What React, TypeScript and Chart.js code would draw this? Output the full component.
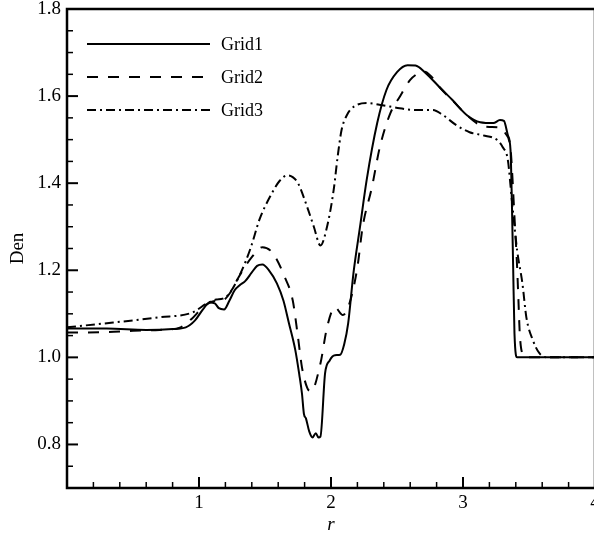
import React, { useEffect, useRef } from "react";
import { Chart, registerables } from "chart.js";

Chart.register(...registerables);

const FONT = '"Liberation Serif", "Times New Roman", Times, serif';

const seriesNames = ["Grid1", "Grid2", "Grid3"];

const grid1R = [0, 0.3, 0.6, 0.8, 0.9, 0.97, 1.03, 1.08, 1.12, 1.15, 1.19, 1.23, 1.27, 1.31, 1.35, 1.4, 1.44, 1.48, 1.53, 1.59, 1.64, 1.68, 1.73, 1.76, 1.78, 1.795, 1.81, 1.835, 1.86, 1.885, 1.905, 1.92, 1.955, 1.99, 2.03, 2.07, 2.1, 2.13, 2.17, 2.22, 2.27, 2.35, 2.42, 2.5, 2.58, 2.64, 2.71, 2.83, 2.92, 3.03, 3.13, 3.23, 3.28, 3.31, 3.34, 3.36, 3.37, 3.38, 3.39, 3.41, 3.43, 4.0];
const grid1Den = [1.066, 1.066, 1.063, 1.065, 1.069, 1.085, 1.11, 1.126, 1.124, 1.113, 1.11, 1.13, 1.154, 1.166, 1.175, 1.195, 1.21, 1.213, 1.2, 1.17, 1.13, 1.08, 1.016, 0.96, 0.917, 0.87, 0.86, 0.83, 0.816, 0.826, 0.816, 0.818, 0.963, 0.993, 1.005, 1.006, 1.03, 1.078, 1.193, 1.3, 1.407, 1.538, 1.614, 1.655, 1.671, 1.67, 1.655, 1.618, 1.591, 1.556, 1.54, 1.538, 1.545, 1.543, 1.51, 1.476, 1.361, 1.207, 1.055, 1.0, 1.0, 1.0];

const grid2R = [0, 0.3, 0.5, 0.7, 0.86, 0.95, 1.03, 1.11, 1.18, 1.24, 1.3, 1.4, 1.48, 1.56, 1.65, 1.71, 1.75, 1.78, 1.82, 1.85, 1.92, 1.97, 2.03, 2.09, 2.14, 2.2, 2.24, 2.31, 2.37, 2.45, 2.52, 2.6, 2.66, 2.71, 2.76, 2.83, 2.92, 3.03, 3.13, 3.2, 3.28, 3.32, 3.36, 3.37, 3.39, 3.41, 3.42, 3.43, 3.45, 3.49, 4.0];
const grid2Den = [1.057, 1.058, 1.061, 1.063, 1.069, 1.09, 1.115, 1.129, 1.131, 1.15, 1.184, 1.23, 1.253, 1.239, 1.184, 1.131, 1.046, 0.977, 0.93, 0.922, 0.986, 1.069, 1.115, 1.097, 1.124, 1.207, 1.3, 1.391, 1.483, 1.561, 1.598, 1.637, 1.652, 1.656, 1.645, 1.618, 1.59, 1.556, 1.533, 1.529, 1.528, 1.515, 1.48, 1.437, 1.322, 1.207, 1.131, 1.055, 1.009, 1.0, 1.0];

const grid3R = [0, 0.35, 0.7, 0.95, 1.06, 1.13, 1.18, 1.23, 1.31, 1.39, 1.46, 1.54, 1.61, 1.67, 1.71, 1.75, 1.82, 1.87, 1.92, 1.97, 2.02, 2.05, 2.08, 2.12, 2.17, 2.27, 2.39, 2.52, 2.65, 2.77, 2.85, 2.95, 3.05, 3.15, 3.26, 3.3, 3.34, 3.37, 3.41, 3.45, 3.48, 3.53, 3.58, 3.64, 4.0];
const grid3Den = [1.069, 1.08, 1.092, 1.103, 1.124, 1.133, 1.135, 1.147, 1.19, 1.25, 1.318, 1.37, 1.405, 1.418, 1.414, 1.4, 1.345, 1.3, 1.257, 1.3, 1.384, 1.46, 1.522, 1.556, 1.575, 1.584, 1.579, 1.572, 1.568, 1.568, 1.556, 1.533, 1.517, 1.51, 1.499, 1.483, 1.453, 1.361, 1.246, 1.17, 1.092, 1.039, 1.009, 1.0, 1.0];

const xTickValues = [1, 2, 3, 4];
const yTickValues = [0.8, 1.0, 1.2, 1.4, 1.6, 1.8];
const xMinorStep = 0.2;
const yMinorStep = 0.05;

const toPoints = (xs: number[], ys: number[]) => xs.map((x, i) => ({ x, y: ys[i] }));

const decorPlugin = {
  id: "decor",
  afterDatasetsDraw(chart: any) {
    const { ctx, chartArea, scales } = chart;
    const { left, right, top, bottom } = chartArea;
    const xs = scales.x;
    const ys = scales.y;
    ctx.save();
    ctx.strokeStyle = "#000";
    ctx.setLineDash([]);
    const seg = (x1: number, y1: number, x2: number, y2: number) => {
      ctx.beginPath();
      ctx.moveTo(x1, y1);
      ctx.lineTo(x2, y2);
      ctx.stroke();
    };
    // minor ticks
    ctx.lineWidth = 1.5;
    for (let v = xMinorStep; v < xs.max - 1e-6; v += xMinorStep) {
      if (xTickValues.some((t) => Math.abs(t - v) < 1e-6)) continue;
      const px = xs.getPixelForValue(v);
      seg(px, bottom, px, bottom - 6);
    }
    for (let v = ys.min + yMinorStep; v < ys.max - 1e-6; v += yMinorStep) {
      if (yTickValues.some((t) => Math.abs(t - v) < 1e-6)) continue;
      const py = ys.getPixelForValue(v);
      seg(left, py, left + 6, py);
    }
    // major ticks
    ctx.lineWidth = 2;
    xTickValues.forEach((v) => {
      const px = xs.getPixelForValue(v);
      seg(px, bottom, px, bottom - 11);
    });
    yTickValues.forEach((v) => {
      const py = ys.getPixelForValue(v);
      seg(left, py, left + 11, py);
    });
    // frame
    ctx.lineWidth = 2.5;
    ctx.strokeRect(left, top, right - left, bottom - top);

    // legend
    const ds = chart.data.datasets;
    const lx1 = 87, lx2 = 210, tx = 221;
    const ly = [44, 77, 110];
    ds.forEach((d: any, i: number) => {
      ctx.lineWidth = d.borderWidth;
      ctx.setLineDash(d.borderDash || []);
      seg(lx1, ly[i], lx2, ly[i]);
      ctx.setLineDash([]);
      ctx.fillStyle = "#000";
      ctx.font = `18px ${FONT}`;
      ctx.textBaseline = "middle";
      ctx.textAlign = "left";
      ctx.fillText(d.label, tx, ly[i] + 1);
    });
    ctx.restore();
  },
};

export default function App() {
  const ref = useRef<HTMLCanvasElement | null>(null);
  useEffect(() => {
    if (!ref.current) return;
    const chart = new Chart(ref.current, {
      type: "line",
      data: {
        datasets: [
          {
            label: seriesNames[0],
            data: toPoints(grid1R, grid1Den),
            borderColor: "#000",
            borderWidth: 2,
            pointRadius: 0,
            cubicInterpolationMode: "monotone",
            fill: false,
          },
          {
            label: seriesNames[1],
            data: toPoints(grid2R, grid2Den),
            borderColor: "#000",
            borderWidth: 2,
            borderDash: [11, 10],
            pointRadius: 0,
            cubicInterpolationMode: "monotone",
            fill: false,
          },
          {
            label: seriesNames[2],
            data: toPoints(grid3R, grid3Den),
            borderColor: "#000",
            borderWidth: 2,
            borderDash: [9, 4, 2, 4],
            pointRadius: 0,
            cubicInterpolationMode: "monotone",
            fill: false,
          },
        ],
      } as any,
      options: {
        animation: false,
        responsive: false,
        devicePixelRatio: 1,
        layout: { padding: { left: 0, right: 15, top: 9, bottom: 0 } },
        plugins: { legend: { display: false }, tooltip: { enabled: false } },
        scales: {
          x: {
            type: "linear",
            min: 0,
            max: 4,
            afterBuildTicks: (s: any) => {
              s.ticks = xTickValues.map((v) => ({ value: v }));
            },
            afterFit: (s: any) => {
              s.height = 49;
              s.paddingLeft = 0;
              s.paddingRight = 0;
            },
            grid: { display: false, drawTicks: false },
            border: { display: false },
            ticks: {
              autoSkip: false,
              maxRotation: 0,
              padding: 6,
              color: "#000",
              font: { family: FONT, size: 19, lineHeight: 1 },
              callback: (v: any) => String(v),
            },
            title: {
              display: true,
              text: "r",
              color: "#000",
              font: { family: FONT, size: 19, style: "italic", lineHeight: 1.2 },
              padding: { top: 0, bottom: 1 },
            },
          },
          y: {
            type: "linear",
            min: 0.7,
            max: 1.8,
            afterBuildTicks: (s: any) => {
              s.ticks = yTickValues.map((v) => ({ value: v }));
            },
            afterFit: (s: any) => {
              s.width = 67;
              s.paddingTop = 0;
              s.paddingBottom = 0;
            },
            grid: { display: false, drawTicks: false },
            border: { display: false },
            ticks: {
              autoSkip: false,
              padding: 6,
              color: "#000",
              font: { family: FONT, size: 19, lineHeight: 1 },
              callback: (v: any) => Number(v).toFixed(1),
            },
            title: {
              display: true,
              text: "Den",
              color: "#000",
              font: { family: FONT, size: 19, lineHeight: 1.2 },
              padding: { top: 7, bottom: 0 },
            },
          },
        },
      } as any,
      plugins: [decorPlugin],
    });
    return () => chart.destroy();
  }, []);
  return (
    <div
      style={{
        position: "fixed",
        left: 0,
        top: 0,
        width: 594,
        height: 537,
        overflow: "hidden",
        background: "#fff",
      }}
    >
      <canvas ref={ref} width={610} height={537} style={{ width: 610, height: 537, display: "block" }} />
    </div>
  );
}
